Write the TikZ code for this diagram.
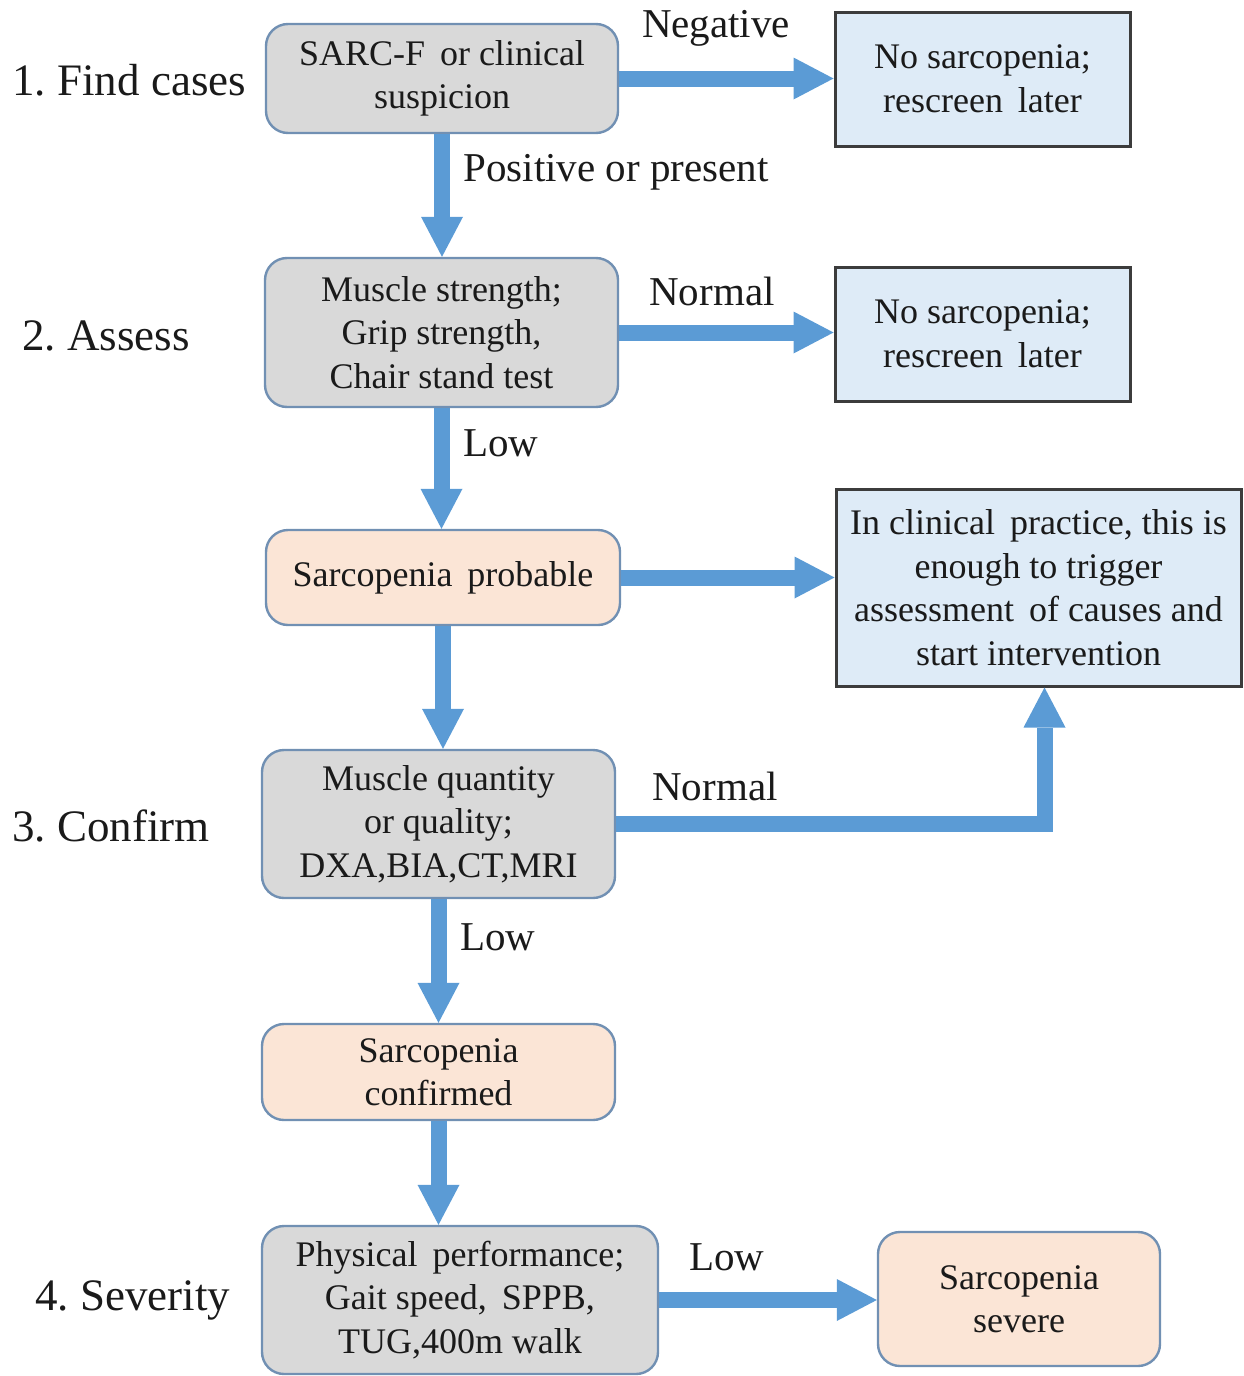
\documentclass[tikz,border=0pt]{standalone}
\usepackage{fontspec}
\setmainfont{LiberationSerif}[Extension=.ttf, UprightFont=*-Regular, BoldFont=*-Bold,
    ItalicFont=*-Italic, BoldItalicFont=*-BoldItalic]
\frenchspacing
\usepackage{xcolor}
\usepackage{tikz}
\usetikzlibrary{arrows.meta,positioning,calc}
\definecolor{arrowblue}{HTML}{5B9BD5}
\definecolor{stepgray}{HTML}{D9D9D9}
\definecolor{stepedge}{HTML}{7190B3}
\definecolor{peach}{HTML}{FBE5D6}
\definecolor{paleblue}{HTML}{DEEBF7}
\definecolor{inkblack}{HTML}{1A1A1A}
\tikzset{
    box/.style={rounded corners=11pt, line width=1.2pt, draw=stepedge, align=center,
        text=inkblack, inner sep=0pt, font=\fontsize{18}{21.75}\selectfont},
    stepbox/.style={box, fill=stepgray},
    resultbox/.style={box, fill=peach},
    notebox/.style={draw=inkblack!85, line width=1.5pt, fill=paleblue, align=center,
        text=inkblack, inner sep=0pt, font=\fontsize{18}{21.75}\selectfont},
    flow/.style={draw=arrowblue, line width=8pt,
        -{Triangle[width=21pt,length=20pt,line width=0pt]}},
    stagelabel/.style={anchor=west, inner sep=0pt, text=inkblack,
        font=\fontsize{22.5}{27}\selectfont},
    edgelabel/.style={inner sep=0pt, text=inkblack, font=\fontsize{20.5}{24}\selectfont},
}

\begin{document}
\begin{tikzpicture}[x=0.5pt, y=-0.5pt]
    \useasboundingbox (0,0) rectangle (1243,1376);

    \node[stepbox, minimum width=176pt, minimum height=54.5pt] (sarcf) at (442,78.5)
        {SARC-F\, or clinical\\suspicion};
    \node[notebox, minimum width=147.5pt, minimum height=67pt] (rescreenA) at (982.5,79)
        {No sarcopenia;\\rescreen\, later};
    \node[stepbox, minimum width=176.5pt, minimum height=74.5pt] (strength) at (441.5,332.5)
        {Muscle strength;\\Grip strength,\\Chair stand test};
    \node[notebox, minimum width=147.5pt, minimum height=67pt] (rescreenB) at (982.5,334)
        {No sarcopenia;\\rescreen\, later};
    \node[resultbox, minimum width=177pt, minimum height=47.5pt] (probable) at (443,577.5)
        {Sarcopenia\, probable};
    \node[notebox, minimum width=202.5pt, minimum height=98.5pt] (practice) at (1038.5,587.5)
        {In clinical\, practice, this is\\enough to trigger\\assessment\, of causes and\\start intervention};
    \node[stepbox, minimum width=176.5pt, minimum height=74pt] (quantity) at (438.5,824)
        {Muscle quantity\\or quality;\\DXA,BIA,CT,MRI};
    \node[resultbox, minimum width=176.5pt, minimum height=48pt] (confirmed) at (438.5,1072)
        {Sarcopenia\\confirmed};
    \node[stepbox, minimum width=198pt, minimum height=74pt] (performance) at (460,1300)
        {Physical\, performance;\\Gait speed,\, SPPB,\\TUG,400m walk};
    \node[resultbox, minimum width=141pt, minimum height=67pt] (severe) at (1019,1299)
        {Sarcopenia\\severe};

    \node[stagelabel] (stageA) at (12,80) {1. Find cases};
    \node[stagelabel] (stageB) at (22,336) {2. Assess};
    \node[stagelabel] (stageC) at (12,826) {3. Confirm};
    \node[stagelabel] (stageD) at (35,1300) {4. Severity};

    \draw[flow] (sarcf.east) -- (sarcf.east -| rescreenA.west);
    \draw[flow] (sarcf.south) -- (sarcf.south |- strength.north);
    \draw[flow] (strength.east) -- (strength.east -| rescreenB.west);
    \draw[flow] (strength.south) -- (strength.south |- probable.north);
    \draw[flow] (probable.east) -- (probable.east -| practice.west);
    \draw[flow] (probable.south) -- (probable.south |- quantity.north);
    \draw[flow] (quantity.east) -| ([xshift=3pt]practice.south);
    \draw[flow] (quantity.south) -- (quantity.south |- confirmed.north);
    \draw[flow] (confirmed.south) -- (confirmed.south |- performance.north);
    \draw[flow] (performance.east) -- (performance.east -| severe.west);

    \node[edgelabel] (negative) at (716,28) {Negative};
    \node[edgelabel, anchor=west] (positive) at (463,172) {Positive or present};
    \node[edgelabel] (normalA) at (712,291) {Normal};
    \node[edgelabel, anchor=west] (lowA) at (463,443) {Low};
    \node[edgelabel] (normalB) at (715,786) {Normal};
    \node[edgelabel, anchor=west] (lowB) at (460,937) {Low};
    \node[edgelabel] (lowC) at (727,1257) {Low};
\end{tikzpicture}
\end{document}
